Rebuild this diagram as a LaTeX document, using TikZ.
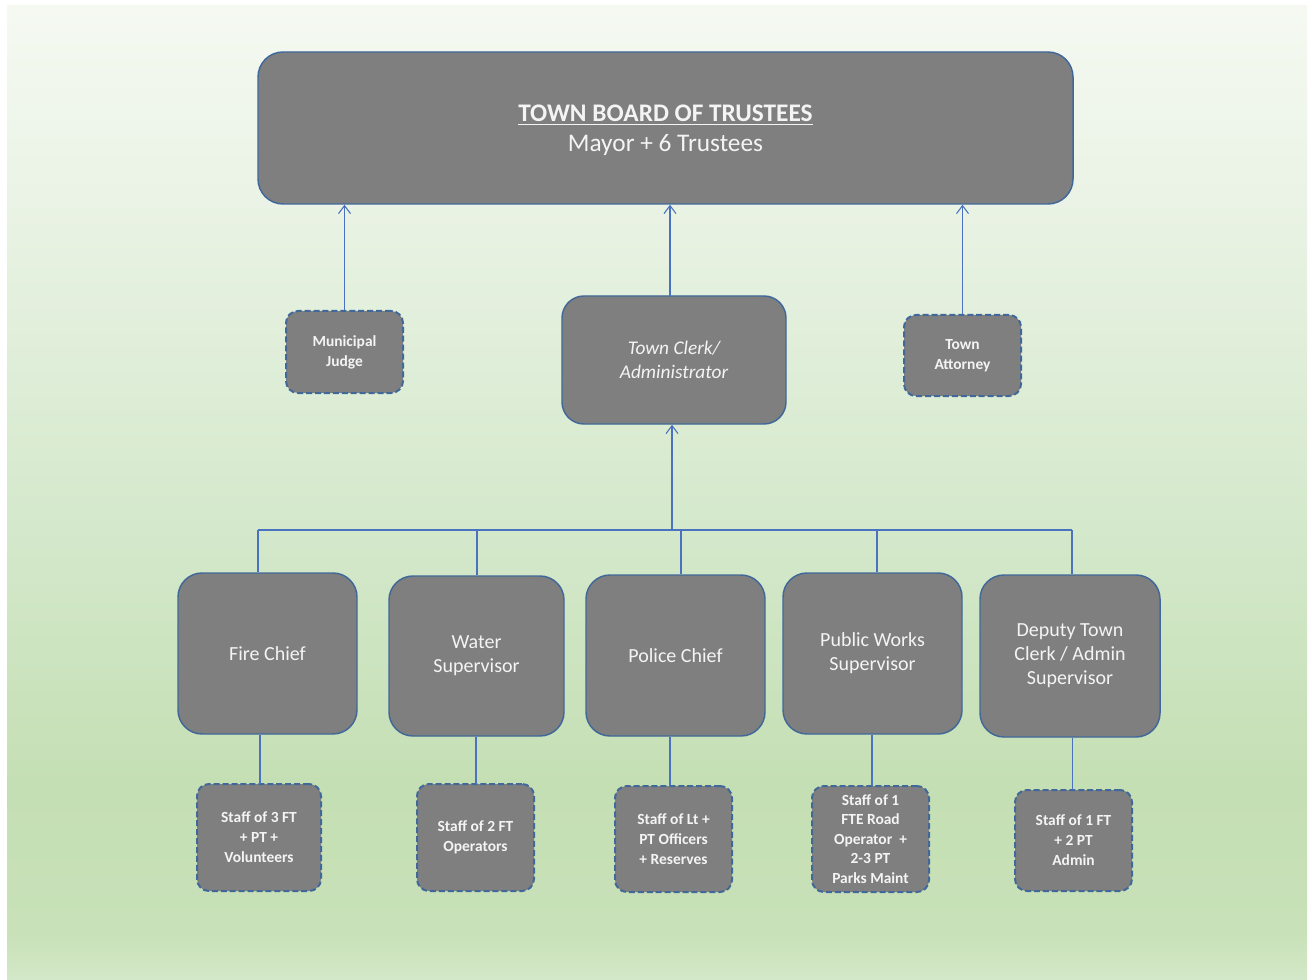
\documentclass[tikz,border=0pt]{standalone}
\usepackage{fontspec}
\setmainfont{Carlito}
\usetikzlibrary{arrows.meta}
\definecolor{boxg}{HTML}{7F7F7F}
\definecolor{bordc}{HTML}{41689A}
\definecolor{linec}{HTML}{4A72C0}
\definecolor{txtc}{HTML}{F4F4F4}
\definecolor{bgA}{HTML}{D3E8C8}
\definecolor{bgB}{HTML}{C8E1B8}
\definecolor{bgC}{HTML}{C5DFB4}
\definecolor{bgD}{HTML}{D3E8CA}
\definecolor{bgE}{HTML}{EAF3E5}
\definecolor{bgF}{HTML}{F5F9F2}
\pgfdeclareverticalshading{bgshade}{100bp}{
  color(0bp)=(bgA);
  color(25bp)=(bgA);
  color(27.5bp)=(bgB);
  color(35bp)=(bgC);
  color(47.5bp)=(bgD);
  color(65bp)=(bgE);
  color(75bp)=(bgF);
  color(100bp)=(bgF)}
\tikzset{
  orgbox/.style={draw=bordc, fill=boxg, line width=1.1pt, text=txtc, align=center, inner sep=0pt},
  dbox/.style={orgbox, line width=1.5pt, dash pattern=on 4.5pt off 2.2pt, rounded corners=9pt, minimum width=87.75pt},
  conn/.style={draw=linec, line width=0.8pt},
  arr/.style={conn, -{Straight Barb[length=6pt,width=9pt]}},
  small/.style={font=\fontsize{11.6pt}{15pt}\selectfont\bfseries},
  mid/.style={font=\fontsize{15pt}{18pt}\selectfont, rounded corners=18pt}
}
\begin{document}
\begin{tikzpicture}[x=0.75pt,y=-0.75pt]
\useasboundingbox (0,0) rectangle (1312,980);
\fill[white] (0,0) rectangle (1312,980);
\shade[shading=bgshade] (7,6) rectangle (1307,980);

% top
\node[orgbox, rounded corners=18.75pt, minimum width=611.25pt, minimum height=114pt,
  font=\fontsize{19pt}{22.5pt}\selectfont] (board) at (665.5,128)
  {\raisebox{0pt}[0pt][0pt]{}\\[-6pt]\underline{\textbf{TOWN BOARD OF TRUSTEES}}\\Mayor + 6 Trustees};

\node[dbox, small, minimum height=61.5pt] (judge) at (344.5,352) {Municipal\\Judge};
\node[orgbox, rounded corners=16.5pt, minimum width=168pt, minimum height=96pt,
  font=\fontsize{14.5pt}{18pt}\selectfont\itshape] (clerk) at (674,360) {Town Clerk/\\Administrator};
\node[dbox, small, minimum height=60.75pt] (atty) at (962.5,355.5) {Town\\Attorney};

% middle row
\node[orgbox, mid, minimum width=134.25pt, minimum height=120.75pt] (fire) at (267.5,653.5) {Fire Chief};
\node[orgbox, mid, minimum width=131.25pt, minimum height=120pt] (water) at (476.5,656) {Water\\Supervisor};
\node[orgbox, mid, minimum width=134.25pt, minimum height=120.75pt] (police) at (675.5,655.5) {Police Chief};
\node[orgbox, mid, minimum width=134.25pt, minimum height=120.75pt] (pw) at (872.5,653.5) {Public Works\\Supervisor};
\node[orgbox, mid, minimum width=135pt, minimum height=121.5pt] (dep) at (1070,656) {Deputy Town\\Clerk / Admin\\Supervisor};

% bottom row
\node[dbox, small, minimum width=93pt, minimum height=80.25pt] (s1) at (259,837.5) {Staff of 3 FT\\+ PT +\\Volunteers};
\node[dbox, small, minimum height=80.25pt] (s2) at (475.5,837.5) {Staff of 2 FT\\Operators};
\node[dbox, small, minimum height=79.5pt] (s3) at (673.5,839) {Staff of Lt +\\PT Officers\\+ Reserves};
\node[dbox, small, minimum height=79.5pt, font=\fontsize{11.6pt}{14.6pt}\selectfont\bfseries] (s4) at (870.5,839) {Staff of 1\\FTE Road\\Operator\ \ +\\2-3 PT\\Parks Maint};
\node[dbox, small, minimum height=75.75pt] (s5) at (1073.5,840.5) {Staff of 1 FT\\+ 2 PT\\Admin};

% connectors to board
\draw[arr] (judge.north) -- (judge.north |- board.south);
\coordinate (cn) at (670,296);
\draw[arr] (cn) -- (cn |- board.south);
\draw[arr] (atty.north) -- (atty.north |- board.south);

% bus
\coordinate (bL) at (258,530);
\coordinate (b2) at (477,530);
\coordinate (bc) at (672,530);
\coordinate (b3) at (681,530);
\coordinate (b4) at (877,530);
\coordinate (bR) at (1072,530);
\draw[conn] (bL) -- (bR);
\draw[arr] (bc) -- (bc |- clerk.south);
\draw[conn] (bL) -- (bL |- fire.north);
\draw[conn] (b2) -- (b2 |- water.north);
\draw[conn] (b3) -- (b3 |- police.north);
\draw[conn] (b4) -- (b4 |- pw.north);
\draw[conn] (bR) -- (bR |- dep.north);

% down to staff
\coordinate (d1) at (260,784);
\coordinate (d2) at (476,784);
\coordinate (d3) at (670,786);
\coordinate (d4) at (872,786);
\coordinate (d5) at (1072.5,790);
\draw[conn] (d1 |- fire.south) -- (d1);
\draw[conn] (d2 |- water.south) -- (d2);
\draw[conn] (d3 |- police.south) -- (d3);
\draw[conn] (d4 |- pw.south) -- (d4);
\draw[conn] (d5 |- dep.south) -- (d5);
\end{tikzpicture}
\end{document}
